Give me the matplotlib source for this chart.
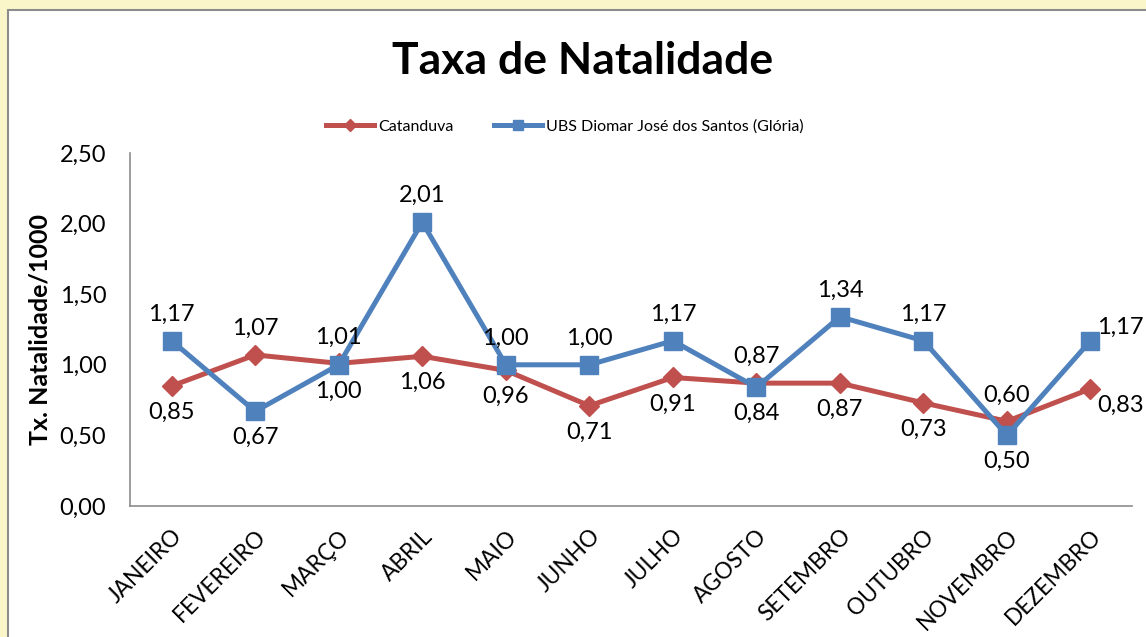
import matplotlib.pyplot as plt
from matplotlib.patches import Rectangle

plt.rcParams['font.family'] = ['Lato', 'DejaVu Sans']

meses = ["JANEIRO", "FEVEREIRO", "MARÇO", "ABRIL", "MAIO", "JUNHO", "JULHO",
         "AGOSTO", "SETEMBRO", "OUTUBRO", "NOVEMBRO", "DEZEMBRO"]
catanduva = [0.85, 1.07, 1.01, 1.06, 0.96, 0.71, 0.91, 0.87, 0.87, 0.73, 0.60, 0.83]
ubs = [1.17, 0.67, 1.00, 2.01, 1.00, 1.00, 1.17, 0.84, 1.34, 1.17, 0.50, 1.17]

# posicao dos rotulos: a = acima, b = abaixo, d = direita
pos_cat = ["b", "a", "a", "b", "b", "b", "b", "a", "b", "b", "a", "d"]
pos_ubs = ["a", "b", "b", "a", "a", "a", "a", "b", "a", "a", "b", "d"]

cor_cat = "#C0504D"
cor_ubs = "#4F81BD"

fig = plt.figure(figsize=(11.46, 6.37), dpi=100)
fig.patch.set_facecolor("#FAF6C9")
fig.patches.append(Rectangle((0.007, -0.1), 1.1, 1.0843, transform=fig.transFigure,
                             facecolor="white", edgecolor="#8C8C8C", linewidth=1.5, zorder=-10))

ax = fig.add_axes([0.1134, 0.2057, 0.8746, 0.5541])
ax.set_facecolor("none")
x = list(range(len(meses)))

ax.plot(x, catanduva, color=cor_cat, lw=3.6, marker="D", ms=10.5, label="Catanduva", zorder=3)
ax.plot(x, ubs, color=cor_ubs, lw=3.6, marker="s", ms=13, label="UBS Diomar José dos Santos (Glória)", zorder=4)

def rotular(vals, pos):
    for i, (v, p) in enumerate(zip(vals, pos)):
        txt = f"{v:.2f}".replace(".", ",")
        if p == "a":
            ax.annotate(txt, (i, v), xytext=(0, 19), textcoords="offset points",
                        ha="center", va="center", fontsize=17, zorder=5)
        elif p == "b":
            ax.annotate(txt, (i, v), xytext=(0, -19), textcoords="offset points",
                        ha="center", va="center", fontsize=17, zorder=5)
        else:
            dy = 10 if v > 1 else -12
            ax.annotate(txt, (i, v), xytext=(5, dy), textcoords="offset points",
                        ha="left", va="center", fontsize=17, zorder=5, annotation_clip=False)

rotular(catanduva, pos_cat)
rotular(ubs, pos_ubs)

ax.set_xlim(-0.5, 11.5)
ax.set_ylim(0, 2.5)
ax.set_yticks([0, 0.5, 1.0, 1.5, 2.0, 2.5])
ax.set_yticklabels(["0,00", "0,50", "1,00", "1,50", "2,00", "2,50"], fontsize=17)
ax.set_xticks(x)
ax.set_xticklabels(meses, fontsize=16.3, rotation=45, ha="right", rotation_mode="anchor")
ax.tick_params(axis="y", length=0, pad=17)
ax.tick_params(axis="x", length=0, pad=14)
for s in ["top", "right"]:
    ax.spines[s].set_visible(False)
for s in ["left", "bottom"]:
    ax.spines[s].set_color("#8C8C8C")
    ax.spines[s].set_linewidth(1.2)

ax.set_ylabel("Tx. Natalidade/1000", fontsize=18, fontweight="bold", labelpad=6)
fig.text(0.508, 0.905, "Taxa de Natalidade", ha="center", va="center",
         fontsize=32, fontweight="bold")

ax.legend(loc="center", bbox_to_anchor=(0.434, 1.074), ncol=2, frameon=False,
          fontsize=11.5, handlelength=3.0, columnspacing=2.5, handletextpad=0.3,
          markerscale=0.6)

fig.savefig("out.png", dpi=100, facecolor=fig.get_facecolor())
